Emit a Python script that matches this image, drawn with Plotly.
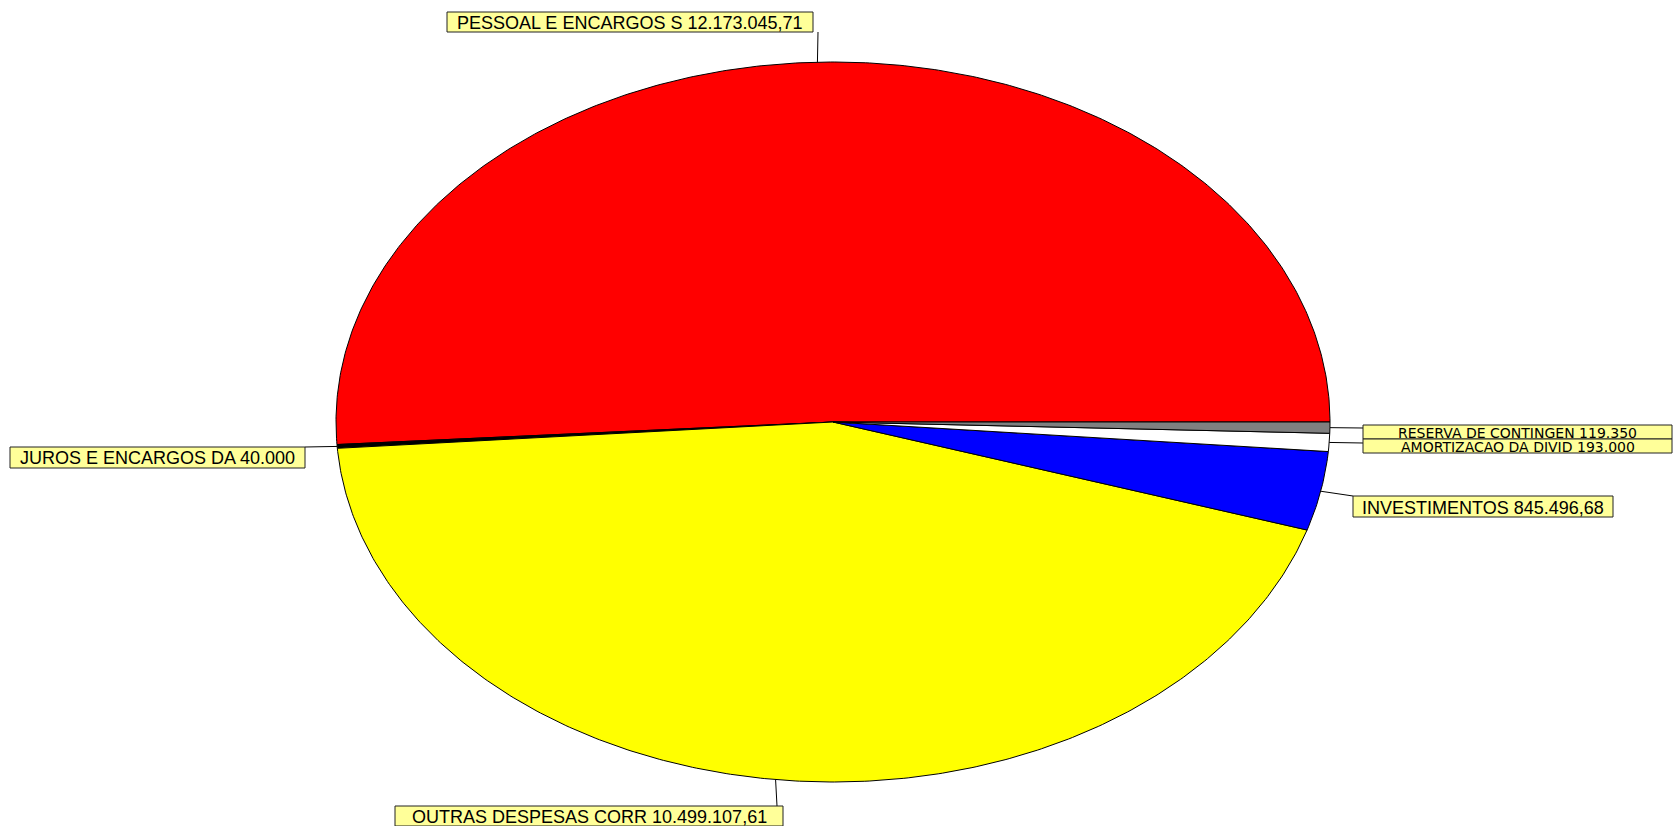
import numpy as np
import plotly.graph_objects as go

# ---- data ----
categories = ["PESSOAL E ENCARGOS S", "JUROS E ENCARGOS DA", "OUTRAS DESPESAS CORR",
              "INVESTIMENTOS", "AMORTIZACAO DA DIVID", "RESERVA DE CONTINGEN"]
values = [12173045.71, 40000.00, 10499107.61, 845496.68, 193000.00, 119350.00]
value_text = ["12.173.045,71", "40.000", "10.499.107,61", "845.496,68", "193.000", "119.350"]
colors = ["#FF0000", "#000000", "#FFFF00", "#0000FF", "#FFFFFF", "#808080"]

# ---- layout constants (pixels) ----
W, H = 1673, 826
CX, CY, RX, RY = 833, 422, 497, 360   # ellipse centre / radii in px
MAIN_FONT = "Liberation Sans, Arial, sans-serif"
WIDE_FONT = "DejaVu Sans, Verdana, sans-serif"
# label boxes: x0, y0, w, h, attach_x, attach_y, font family, font size
boxes = [
    (447, 12, 366, 20, 818, 32, MAIN_FONT, 18),
    (10, 447, 295, 21, 305, 447, MAIN_FONT, 18),
    (395, 806, 388, 20, 777, 806, MAIN_FONT, 18),
    (1353, 496, 260, 21, 1353, 496, MAIN_FONT, 18),
    (1363, 439, 309, 14, 1363, 443, WIDE_FONT, 14),
    (1363, 425, 309, 14, 1363, 428, WIDE_FONT, 14),
]

def to_data(px, py):
    return (px - CX) / RX, (CY - py) / RY

fig = go.Figure()
total = sum(values)
start = 0.0
mids = []
for name, v, c in zip(categories, values, colors):
    span = v / total * 2 * np.pi
    n = max(3, int(span / (2 * np.pi) * 720))
    th = np.linspace(start, start + span, n)
    xs = np.concatenate([[0], np.cos(th), [0]])
    ys = np.concatenate([[0], np.sin(th), [0]])
    fig.add_trace(go.Scatter(x=xs, y=ys, mode="lines", fill="toself", fillcolor=c,
                             line=dict(color="#000000", width=1), name=name,
                             hoverinfo="name", showlegend=False))
    mids.append(start + span / 2)
    start += span

# leader lines
for i in range(len(categories)):
    x0, y0, w, h, axp, ayp, ff, fs = boxes[i]
    m = mids[i]
    lx, ly = to_data(axp, ayp)
    fig.add_trace(go.Scatter(x=[np.cos(m), lx], y=[np.sin(m), ly], mode="lines",
                             line=dict(color="#000000", width=1),
                             hoverinfo="skip", showlegend=False))

# label boxes (shapes) and texts (annotations)
for i in [0, 1, 2, 3, 5, 4]:
    x0, y0, w, h, axp, ayp, ff, fs = boxes[i]
    fig.add_shape(type="rect", xref="paper", yref="paper",
                  x0=x0 / W, x1=(x0 + w) / W, y0=1 - y0 / H, y1=1 - (y0 + h) / H,
                  fillcolor="#FFFF99", line=dict(color="#222222", width=1))
    fig.add_annotation(
        x=(x0 + w / 2) / W, y=1 - (y0 + h / 2) / H, xref="paper", yref="paper",
        xanchor="center", yanchor="middle", yshift=-1,
        text=f"{categories[i]} {value_text[i]}", showarrow=False,
        font=dict(family=ff, size=fs, color="#000000"),
    )

fig.update_layout(
    width=W, height=H, margin=dict(l=0, r=0, t=0, b=0),
    paper_bgcolor="#FFFFFF", plot_bgcolor="#FFFFFF",
    xaxis=dict(range=[(0 - CX) / RX, (W - CX) / RX], visible=False, fixedrange=True),
    yaxis=dict(range=[(CY - H) / RY, CY / RY], visible=False, fixedrange=True),
    showlegend=False,
)
fig.write_html("out.html", config={"displayModeBar": False},
               post_script="document.body.style.margin='0';document.body.style.overflow='hidden';")
